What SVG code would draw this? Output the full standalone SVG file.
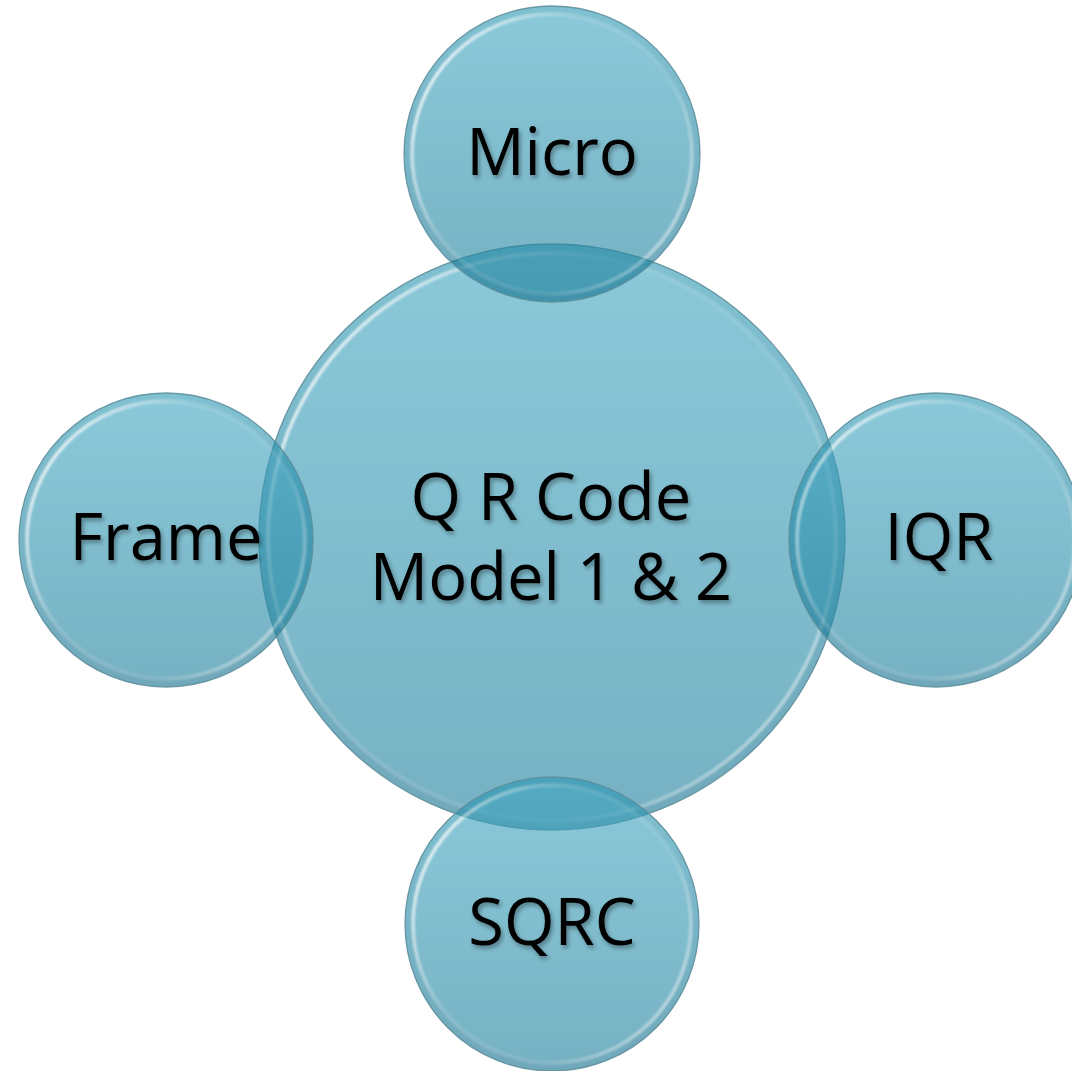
<svg xmlns="http://www.w3.org/2000/svg" width="1072" height="1071" viewBox="0 0 1072 1071">
  <defs>
    <linearGradient id="gOuter" x1="0" y1="0" x2="0" y2="1">
      <stop offset="0" stop-color="#2b98b4"/>
      <stop offset="1" stop-color="#12708e"/>
    </linearGradient>
    <linearGradient id="gInner" x1="0" y1="0" x2="0" y2="1">
      <stop offset="0" stop-color="#3ea5c1"/>
      <stop offset="0.5" stop-color="#2d92ae"/>
      <stop offset="1" stop-color="#1b7f9b"/>
    </linearGradient>
    <linearGradient id="gRim" x1="0" y1="0.2" x2="1" y2="0.8">
      <stop offset="0" stop-color="#ffffff" stop-opacity="0.9"/>
      <stop offset="0.35" stop-color="#ffffff" stop-opacity="0.2"/>
      <stop offset="0.7" stop-color="#ffffff" stop-opacity="0.15"/>
      <stop offset="1" stop-color="#ffffff" stop-opacity="0.6"/>
    </linearGradient>
    <filter id="soft" x="-5%" y="-5%" width="110%" height="110%">
      <feGaussianBlur stdDeviation="0.9"/>
    </filter>
    <filter id="tshadow" x="-10%" y="-20%" width="120%" height="140%">
      <feDropShadow dx="2" dy="3" stdDeviation="2" flood-color="#000000" flood-opacity="0.35"/>
    </filter>
  </defs>
  <style>
    .disc { opacity: 0.6; }
    .outer { fill: url(#gOuter); }
    .inner { fill: url(#gInner); }
    .rim { fill: none; stroke: url(#gRim); stroke-width: 3.5; filter: url(#soft); }
    .edge { fill: none; stroke: #5b8c9a; stroke-width: 1.3; stroke-opacity: 0.85; }
    .label { font-family: "Open Sans", "Liberation Sans", sans-serif; font-size: 65px; fill: #000000; text-anchor: middle; filter: url(#tshadow); }
  </style>
  <rect width="1072" height="1071" fill="#ffffff"/>
  <g id="connectors"></g>
  <g id="node-center">
    <g class="disc">
      <circle class="outer" cx="552" cy="537" r="293"/>
      <circle class="inner" cx="552" cy="537" r="283"/>
      <circle class="rim" cx="552" cy="537" r="284"/>
    </g>
    <circle class="edge" cx="552" cy="537" r="293"/>
    <text class="label" x="551" y="520">Q R Code</text>
    <text class="label" x="551" y="600">Model 1 &amp; 2</text>
  </g>
  <g id="node-micro">
    <g class="disc">
      <circle class="outer" cx="552" cy="154" r="148"/>
      <circle class="inner" cx="552" cy="154" r="139"/>
      <circle class="rim" cx="552" cy="154" r="140"/>
    </g>
    <circle class="edge" cx="552" cy="154" r="148"/>
    <text class="label" x="552" y="175">Micro</text>
  </g>
  <g id="node-frame">
    <g class="disc">
      <circle class="outer" cx="166" cy="540" r="147"/>
      <circle class="inner" cx="166" cy="540" r="138"/>
      <circle class="rim" cx="166" cy="540" r="139"/>
    </g>
    <circle class="edge" cx="166" cy="540" r="147"/>
    <text class="label" x="166" y="560">Frame</text>
  </g>
  <g id="node-iqr">
    <g class="disc">
      <circle class="outer" cx="936" cy="540" r="147"/>
      <circle class="inner" cx="936" cy="540" r="138"/>
      <circle class="rim" cx="936" cy="540" r="139"/>
    </g>
    <circle class="edge" cx="936" cy="540" r="147"/>
    <text class="label" x="939" y="560">IQR</text>
  </g>
  <g id="node-sqrc">
    <g class="disc">
      <circle class="outer" cx="552" cy="924" r="147"/>
      <circle class="inner" cx="552" cy="924" r="138"/>
      <circle class="rim" cx="552" cy="924" r="139"/>
    </g>
    <circle class="edge" cx="552" cy="924" r="147"/>
    <text class="label" x="552" y="945">SQRC</text>
  </g>
</svg>
